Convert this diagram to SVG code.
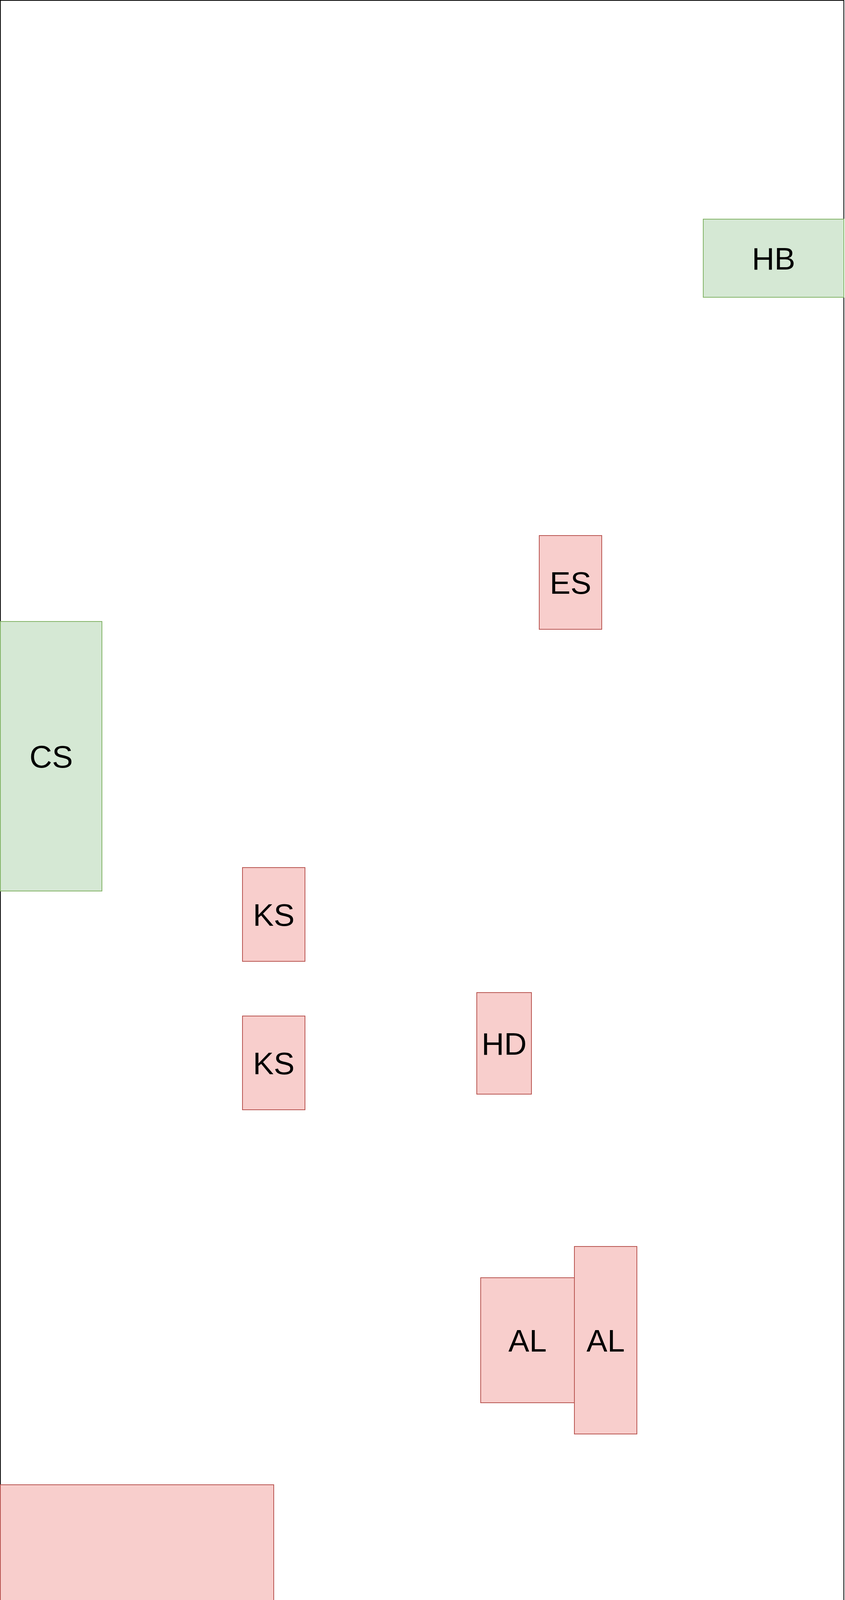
<svg xmlns="http://www.w3.org/2000/svg" width="2164" height="4542" viewBox="0 0 2164 4542">
<style>
.frame{fill:#ffffff;stroke:#000000;stroke-width:2}
.g{fill:#d5e8d4;stroke:#82b366;stroke-width:2}
.r{fill:#f8cecc;stroke:#b85450;stroke-width:2}
text{font-family:"Liberation Sans",Arial,sans-serif;font-size:80px;fill:#000000;text-anchor:middle}
</style>
<rect x="0" y="0" width="2164" height="4542" fill="#ffffff"/>
<g id="frame"><rect class="frame" x="1" y="1" width="2160" height="4540"/></g>
<g id="connectors"></g>
<g id="node-hb"><rect class="g" x="1801" y="561" width="360" height="200"/><text x="1981" y="690">HB</text></g>
<g id="node-es"><rect class="r" x="1381" y="1371" width="160" height="240"/><text x="1461" y="1520">ES</text></g>
<g id="node-cs"><rect class="g" x="1" y="1591" width="260" height="690"/><text x="131" y="1965">CS</text></g>
<g id="node-ks1"><rect class="r" x="621" y="2221" width="160" height="240"/><text x="701" y="2370">KS</text></g>
<g id="node-ks2"><rect class="r" x="621" y="2601" width="160" height="240"/><text x="701" y="2750">KS</text></g>
<g id="node-hd"><rect class="r" x="1221" y="2541" width="140" height="260"/><text x="1291" y="2700">HD</text></g>
<g id="node-al1"><rect class="r" x="1231" y="3271" width="240" height="320"/><text x="1351" y="3460">AL</text></g>
<g id="node-al2"><rect class="r" x="1471" y="3191" width="160" height="480"/><text x="1551" y="3460">AL</text></g>
<g id="node-ef"><rect class="r" x="1" y="3801" width="700" height="740"/><text x="351" y="4200">EF</text></g>
</svg>
